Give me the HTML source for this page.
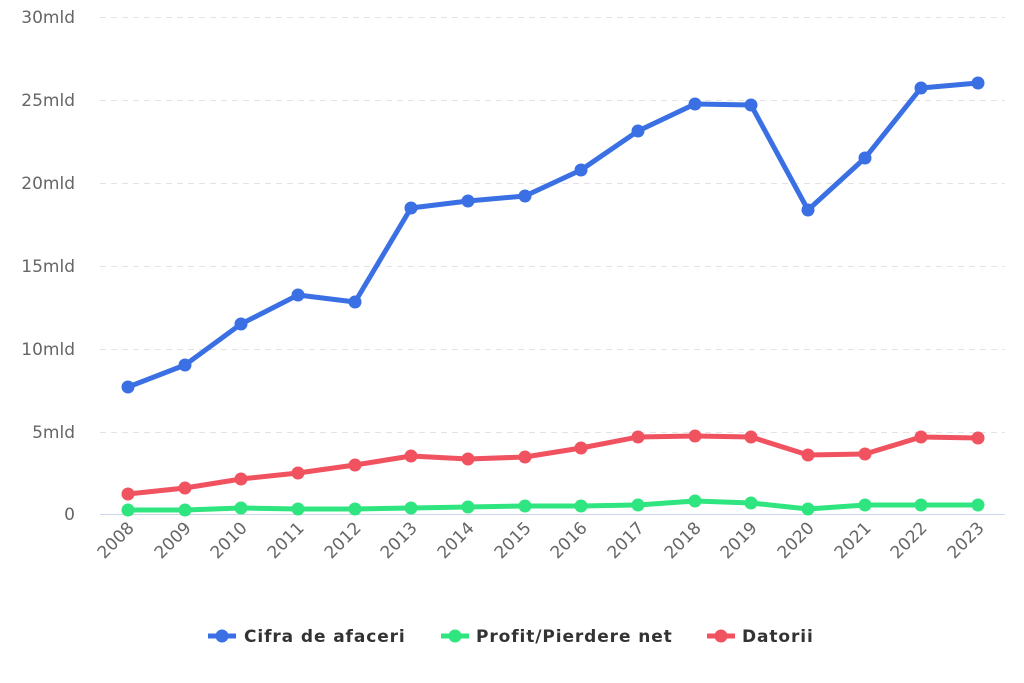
<!DOCTYPE html>
<html><head><meta charset="utf-8"><style>
body{margin:0;background:#fff;}
svg{display:block;font-family:"DejaVu Sans","Liberation Sans",sans-serif;}
</style></head><body>
<svg width="1024" height="683" viewBox="0 0 1024 683">
<g stroke="#e3e3e3" stroke-width="1" stroke-dasharray="6,5">
<line x1="100" x2="1005" y1="17.5" y2="17.5"/>
<line x1="100" x2="1005" y1="100.5" y2="100.5"/>
<line x1="100" x2="1005" y1="183.5" y2="183.5"/>
<line x1="100" x2="1005" y1="266.5" y2="266.5"/>
<line x1="100" x2="1005" y1="349.5" y2="349.5"/>
<line x1="100" x2="1005" y1="432.5" y2="432.5"/>
</g>
<line x1="100" x2="1005" y1="514.5" y2="514.5" stroke="#ccd6eb" stroke-width="1"/>
<g fill="#666" font-size="17" text-anchor="end">
<text x="75" y="23">30mld</text>
<text x="75" y="106">25mld</text>
<text x="75" y="189">20mld</text>
<text x="75" y="272">15mld</text>
<text x="75" y="355">10mld</text>
<text x="75" y="438">5mld</text>
<text x="75" y="520">0</text>
</g>
<g fill="#666" font-size="17" text-anchor="end">
<text transform="translate(135,529) rotate(-45)">2008</text>
<text transform="translate(192,529) rotate(-45)">2009</text>
<text transform="translate(248,529) rotate(-45)">2010</text>
<text transform="translate(305,529) rotate(-45)">2011</text>
<text transform="translate(362,529) rotate(-45)">2012</text>
<text transform="translate(418,529) rotate(-45)">2013</text>
<text transform="translate(475,529) rotate(-45)">2014</text>
<text transform="translate(532,529) rotate(-45)">2015</text>
<text transform="translate(588,529) rotate(-45)">2016</text>
<text transform="translate(645,529) rotate(-45)">2017</text>
<text transform="translate(702,529) rotate(-45)">2018</text>
<text transform="translate(758,529) rotate(-45)">2019</text>
<text transform="translate(815,529) rotate(-45)">2020</text>
<text transform="translate(872,529) rotate(-45)">2021</text>
<text transform="translate(928,529) rotate(-45)">2022</text>
<text transform="translate(985,529) rotate(-45)">2023</text>
</g>
<g fill="none" stroke-width="5" stroke-linejoin="round">
<polyline stroke="#2ee57f" points="128,510 185,510 241,508 298,509 355,509 411,508 468,507 525,506 581,506 638,505 695,501 751,503 808,509 865,505 921,505 978,505"/>
<polyline stroke="#f0525f" points="128,494 185,488 241,479 298,473 355,465 411,456 468,459 525,457 581,448 638,437 695,436 751,437 808,455 865,454 921,437 978,438"/>
<polyline stroke="#3a70e3" points="128,387 185,365 241,324 298,295 355,302 411,208 468,201 525,196 581,170 638,131 695,104 751,105 808,210 865,158 921,88 978,83"/>
</g>
<g fill="#2ee57f">
<circle cx="128" cy="510" r="6.5"/><circle cx="185" cy="510" r="6.5"/><circle cx="241" cy="508" r="6.5"/><circle cx="298" cy="509" r="6.5"/><circle cx="355" cy="509" r="6.5"/><circle cx="411" cy="508" r="6.5"/><circle cx="468" cy="507" r="6.5"/><circle cx="525" cy="506" r="6.5"/><circle cx="581" cy="506" r="6.5"/><circle cx="638" cy="505" r="6.5"/><circle cx="695" cy="501" r="6.5"/><circle cx="751" cy="503" r="6.5"/><circle cx="808" cy="509" r="6.5"/><circle cx="865" cy="505" r="6.5"/><circle cx="921" cy="505" r="6.5"/><circle cx="978" cy="505" r="6.5"/>
</g>
<g fill="#f0525f">
<circle cx="128" cy="494" r="6.5"/><circle cx="185" cy="488" r="6.5"/><circle cx="241" cy="479" r="6.5"/><circle cx="298" cy="473" r="6.5"/><circle cx="355" cy="465" r="6.5"/><circle cx="411" cy="456" r="6.5"/><circle cx="468" cy="459" r="6.5"/><circle cx="525" cy="457" r="6.5"/><circle cx="581" cy="448" r="6.5"/><circle cx="638" cy="437" r="6.5"/><circle cx="695" cy="436" r="6.5"/><circle cx="751" cy="437" r="6.5"/><circle cx="808" cy="455" r="6.5"/><circle cx="865" cy="454" r="6.5"/><circle cx="921" cy="437" r="6.5"/><circle cx="978" cy="438" r="6.5"/>
</g>
<g fill="#3a70e3">
<circle cx="128" cy="387" r="6.5"/><circle cx="185" cy="365" r="6.5"/><circle cx="241" cy="324" r="6.5"/><circle cx="298" cy="295" r="6.5"/><circle cx="355" cy="302" r="6.5"/><circle cx="411" cy="208" r="6.5"/><circle cx="468" cy="201" r="6.5"/><circle cx="525" cy="196" r="6.5"/><circle cx="581" cy="170" r="6.5"/><circle cx="638" cy="131" r="6.5"/><circle cx="695" cy="104" r="6.5"/><circle cx="751" cy="105" r="6.5"/><circle cx="808" cy="210" r="6.5"/><circle cx="865" cy="158" r="6.5"/><circle cx="921" cy="88" r="6.5"/><circle cx="978" cy="83" r="6.5"/>
</g>
<g font-size="17" font-weight="bold" fill="#333" letter-spacing="0.9">
<line x1="208" x2="236" y1="636" y2="636" stroke="#3a70e3" stroke-width="5"/><circle cx="222" cy="636" r="6.5" fill="#3a70e3"/>
<text x="244" y="642">Cifra de afaceri</text>
<line x1="441" x2="469" y1="636" y2="636" stroke="#2ee57f" stroke-width="5"/><circle cx="455" cy="636" r="6.5" fill="#2ee57f"/>
<text x="476" y="642">Profit/Pierdere net</text>
<line x1="707" x2="735" y1="636" y2="636" stroke="#f0525f" stroke-width="5"/><circle cx="721" cy="636" r="6.5" fill="#f0525f"/>
<text x="742" y="642">Datorii</text>
</g>
</svg>
</body></html>
